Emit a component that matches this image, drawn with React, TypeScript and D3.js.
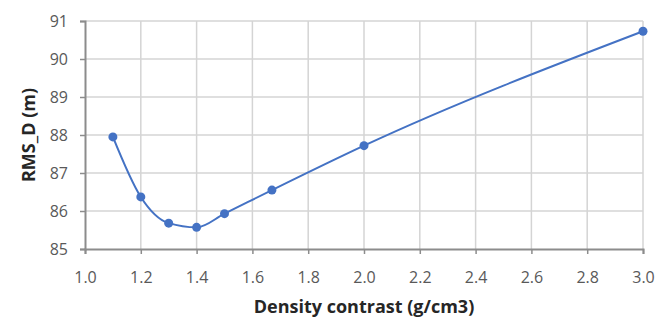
import { useEffect, useRef } from 'react';
import * as d3 from 'd3';

// density contrast (g/cm3) vs RMS_D (m)
const density = [1.1, 1.2, 1.3, 1.4, 1.5, 1.67, 2.0, 3.0];
const rmsD = [87.95, 86.37, 85.68, 85.57, 85.93, 86.55, 87.72, 90.73];
const xTicks = [1.0, 1.2, 1.4, 1.6, 1.8, 2.0, 2.2, 2.4, 2.6, 2.8, 3.0];
const yTicks = [85, 86, 87, 88, 89, 90, 91];

const width = 655;
const height = 322;
const font = '"Open Sans", Lato, sans-serif';

const App = () => {
  const ref = useRef<SVGSVGElement>(null);

  useEffect(() => {
    const svg = d3.select(ref.current);
    svg.selectAll('*').remove();

    const left = 85;
    const right = 643;
    const top = 21;
    const bottom = 249;

    const x = d3.scaleLinear().domain([1.0, 3.0]).range([left, right]);
    const y = d3.scaleLinear().domain([85, 91]).range([bottom, top]);

    svg.append('rect').attr('width', width).attr('height', height).attr('fill', '#fff');

    // grid
    const grid = svg.append('g').attr('stroke', '#d4d4d4').attr('stroke-width', 1.5);
    xTicks.slice(1).forEach(t => {
      grid.append('line').attr('x1', x(t)).attr('x2', x(t)).attr('y1', top).attr('y2', bottom);
    });
    yTicks.slice(1).forEach(t => {
      grid.append('line').attr('x1', left).attr('x2', right).attr('y1', y(t)).attr('y2', y(t));
    });

    // axes
    const xAxis = d3.axisBottom(x).tickValues(xTicks).tickSize(5).tickFormat(d3.format('.1f'));
    const yAxis = d3.axisLeft(y).tickValues(yTicks).tickSize(5).tickFormat(d3.format('d'));

    const gx = svg.append('g').attr('transform', 'translate(0,' + bottom + ')').call(xAxis);
    const gy = svg.append('g').attr('transform', 'translate(' + left + ',0)').call(yAxis);

    [gx, gy].forEach(g => {
      g.select('.domain').attr('stroke', '#8c8c8c').attr('stroke-width', 2);
      g.selectAll('.tick line').attr('stroke', '#8c8c8c').attr('stroke-width', 1.5);
      g.selectAll('.tick text')
        .attr('fill', '#595959')
        .style('font-family', font)
        .style('font-size', '16px');
    });
    gx.selectAll('.tick text').attr('dy', null).attr('y', 34);
    gy.selectAll('.tick text').attr('x', -17).attr('dy', '0.36em');

    // series
    const pts = density.map((d, i) => [d, rmsD[i]] as [number, number]);
    const line = d3.line<[number, number]>()
      .x(d => x(d[0]))
      .y(d => y(d[1]))
      .curve(d3.curveMonotoneX);

    svg.append('path')
      .datum(pts)
      .attr('d', line)
      .attr('fill', 'none')
      .attr('stroke', '#4472c4')
      .attr('stroke-width', 2);

    svg.selectAll('circle.pt')
      .data(pts)
      .enter()
      .append('circle')
      .attr('class', 'pt')
      .attr('cx', d => x(d[0]))
      .attr('cy', d => y(d[1]))
      .attr('r', 4.5)
      .attr('fill', '#4472c4');

    // titles
    svg.append('text')
      .attr('x', 364)
      .attr('y', 313)
      .attr('text-anchor', 'middle')
      .attr('fill', '#262626')
      .style('font-family', font)
      .style('font-weight', 'bold')
      .style('font-size', '18px')
      .text('Density contrast (g/cm3)');

    svg.append('text')
      .attr('transform', 'translate(35,135) rotate(-90)')
      .attr('text-anchor', 'middle')
      .attr('fill', '#262626')
      .style('font-family', font)
      .style('font-weight', 'bold')
      .style('font-size', '18px')
      .text('RMS_D (m)');
  }, []);

  return (
    <svg
      ref={ref}
      width={width}
      height={height}
      style={{ position: 'absolute', left: 0, top: 0 }}
    />
  );
};

export default App;
